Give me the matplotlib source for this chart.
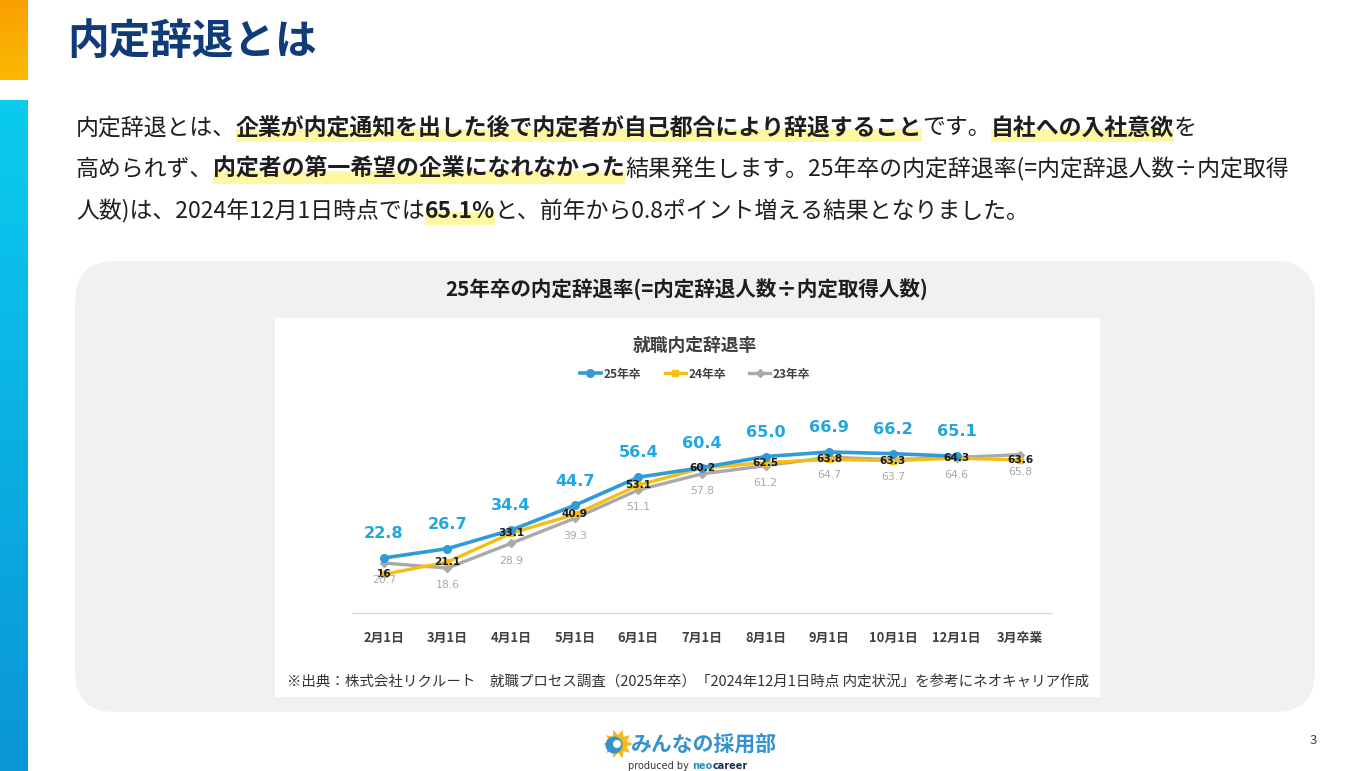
import matplotlib
matplotlib.use("Agg")
import numpy as np
import matplotlib.pyplot as plt
from matplotlib.patches import Rectangle, FancyBboxPatch, Circle, Polygon
from matplotlib.colors import LinearSegmentedColormap
from matplotlib.font_manager import FontProperties

plt.rcParams['font.family'] = ['Noto Sans CJK JP', 'DejaVu Sans']

# ---------------------------------------------------------------------------
# DATA
# ---------------------------------------------------------------------------
months = ["2月1日", "3月1日", "4月1日", "5月1日", "6月1日", "7月1日",
          "8月1日", "9月1日", "10月1日", "12月1日", "3月卒業"]
rate_25 = [22.8, 26.7, 34.4, 44.7, 56.4, 60.4, 65.0, 66.9, 66.2, 65.1]
rate_24 = [16, 21.1, 33.1, 40.9, 53.1, 60.2, 62.5, 63.8, 63.3, 64.3, 63.6]
rate_23 = [20.7, 18.6, 28.9, 39.3, 51.1, 57.8, 61.2, 64.7, 63.7, 64.6, 65.8]
series_names = ["25年卒", "24年卒", "23年卒"]

body_lines = [
    [("内定辞退とは、", False),
     ("企業が内定通知を出した後で内定者が自己都合により辞退すること", True),
     ("です。", False), ("自社への入社意欲", True), ("を", False)],
    [("高められず、", False), ("内定者の第一希望の企業になれなかった", True),
     ("結果発生します。25年卒の内定辞退率(=内定辞退人数÷内定取得", False)],
    [("人数)は、2024年12月1日時点では", False), ("65.1%", True),
     ("と、前年から0.8ポイント増える結果となりました。", False)],
]

BLUE_LINE = "#2F9BD7"
BLUE_LABEL = "#22A6DF"
YELLOW = "#F6BD16"
GRAY = "#A9A9A9"
TEXT = "#1E1E1E"
HIGHLIGHT = "#FFF8A3"

W, H = 1371, 771
fig = plt.figure(figsize=(W / 100, H / 100), dpi=100)
fig.patch.set_facecolor("white")

# background axes in pixel coordinates
bg = fig.add_axes([0, 0, 1, 1])
bg.set_xlim(0, W)
bg.set_ylim(H, 0)
bg.axis("off")

# side bars with gradients
grad = np.linspace(0, 1, 100).reshape(-1, 1)
orange_cmap = LinearSegmentedColormap.from_list("o", ["#F9A000", "#FBB800"])
blue_cmap = LinearSegmentedColormap.from_list("b", ["#0BCBEF", "#0A96D6"])
bg.imshow(grad, cmap=orange_cmap, extent=(0, 28, 80, 0), aspect="auto", zorder=1)
bg.imshow(grad, cmap=blue_cmap, extent=(0, 28, H, 100), aspect="auto", zorder=1)
bg.set_xlim(0, W)
bg.set_ylim(H, 0)

# title
bg.text(67, 42, "内定辞退とは", fontsize=30, fontweight="bold", color="#0F3B78",
        va="center", ha="left")

# body text with highlighted bold parts
fig.canvas.draw()
renderer = fig.canvas.get_renderer()
for i, parts in enumerate(body_lines):
    x = 76
    y = 128 + i * 41.5
    for text, bold in parts:
        t = bg.text(x, y, text, fontsize=16.5, fontweight="bold" if bold else "normal",
                    color=TEXT, va="center", ha="left", zorder=4)
        w = t.get_window_extent(renderer).width
        if bold:
            bg.add_patch(Rectangle((x, y + 1), w, 13, color=HIGHLIGHT, lw=0, zorder=3))
        x += w

# grey rounded panel and white chart box
bg.add_patch(FancyBboxPatch((75, 261), 1240, 451,
                            boxstyle="round,pad=0,rounding_size=40",
                            facecolor="#F2F1EF", edgecolor="none", zorder=1))
bg.add_patch(Rectangle((275, 318), 825, 379, facecolor="white", edgecolor="none", zorder=2))

bg.text(687, 289, "25年卒の内定辞退率(=内定辞退人数÷内定取得人数)", fontsize=14.8,
        fontweight="bold", color=TEXT, ha="center", va="center", zorder=3)
bg.text(695, 346, "就職内定辞退率", fontsize=12.8, fontweight="bold", color="#404040",
        ha="center", va="center", zorder=3)
bg.text(287, 683, "※出典：株式会社リクルート　就職プロセス調査（2025年卒）「2024年12月1日時点 内定状況」を参考にネオキャリア作成",
        fontsize=10.45, color="#333333", ha="left", va="center", zorder=3)

# page number
bg.text(1313, 740, "3", fontsize=9.5, color="#404040", ha="center", va="center")

# logo
star = []
for k in range(20):
    r = 15 if k % 2 == 0 else 9
    a = np.pi * k / 10
    star.append((618 + r * np.cos(a), 744 + r * np.sin(a)))
bg.add_patch(Polygon(star, closed=True, facecolor="#F7B81C", edgecolor="none", zorder=3))
bg.add_patch(Circle((614, 745), 8.5, facecolor="#3592CF", edgecolor="none", zorder=4))
bg.add_patch(Circle((617, 744), 4, facecolor="white", edgecolor="none", zorder=5))
bg.text(631, 745, "みんなの採用部", fontsize=15, fontweight="bold", color="#3592CF",
        ha="left", va="center")
x = 628
for text, col, bold in [("produced by ", "#333333", False), ("neo", "#2A8FD0", True),
                        ("career", "#1C2D5A", True)]:
    t = bg.text(x, 766, text, fontsize=7, color=col, fontweight="bold" if bold else "normal",
                ha="left", va="center", family="DejaVu Sans")
    x += t.get_window_extent(renderer).width

# ---------------------------------------------------------------------------
# LINE CHART
# ---------------------------------------------------------------------------
left, right = 352 / W, 1052 / W
base_y, top_y = 612.8, 390
ax = fig.add_axes([left, (H - base_y) / H, right - left, (base_y - top_y) / H])
ax.patch.set_alpha(0)
xs = np.arange(len(months))

ax.plot(xs, rate_23, color=GRAY, lw=2.4, marker="D", ms=4.5, label=series_names[2], zorder=2)
ax.plot(xs, rate_24, color=YELLOW, lw=2.4, marker="s", ms=4.5, label=series_names[1], zorder=3)
ax.plot(xs[:len(rate_25)], rate_25, color=BLUE_LINE, lw=2.6, marker="o", ms=5.5,
        label=series_names[0], zorder=4)

for xi, v in zip(xs, rate_25):
    ax.annotate(f"{v:.1f}", (xi, v), xytext=(0, 17.5), textcoords="offset points",
                ha="center", va="center", fontsize=11.6, fontweight="bold",
                color=BLUE_LABEL, family="DejaVu Sans", zorder=6)
for xi, v in zip(xs, rate_24):
    ax.annotate(f"{v:g}", (xi, v), xytext=(0, 0), textcoords="offset points",
                ha="center", va="center", fontsize=7.6, fontweight="bold",
                color="#1A1A1A", family="DejaVu Sans", zorder=6)
for xi, v in zip(xs, rate_23):
    ax.annotate(f"{v:.1f}", (xi, v), xytext=(0, -12.5), textcoords="offset points",
                ha="center", va="center", fontsize=7.8, color=GRAY,
                family="DejaVu Sans", zorder=6)

ax.set_xlim(-0.5, len(months) - 0.5)
ax.set_ylim(0, (base_y - top_y) / 2.404)
ax.set_yticks([])
ax.set_xticks(xs)
ax.set_xticklabels(months, fontsize=9.3, fontweight="bold", color="#404040")
ax.tick_params(axis="x", length=0, pad=13)
for s in ["top", "right", "left"]:
    ax.spines[s].set_visible(False)
ax.spines["bottom"].set_color("#D9D9D9")
ax.spines["bottom"].set_linewidth(1)

handles, labels = ax.get_legend_handles_labels()
leg = ax.legend(handles[::-1], labels[::-1], loc="center",
                bbox_to_anchor=(695 / W, 1 - 374 / H), bbox_transform=fig.transFigure,
                ncol=3, frameon=False, prop=FontProperties(family=["Noto Sans CJK JP"], weight="bold", size=8.5),
                handlelength=1.8, columnspacing=2.0, handletextpad=0.2)
for t in leg.get_texts():
    t.set_color("#404040")

fig.savefig("out.png", dpi=100)
